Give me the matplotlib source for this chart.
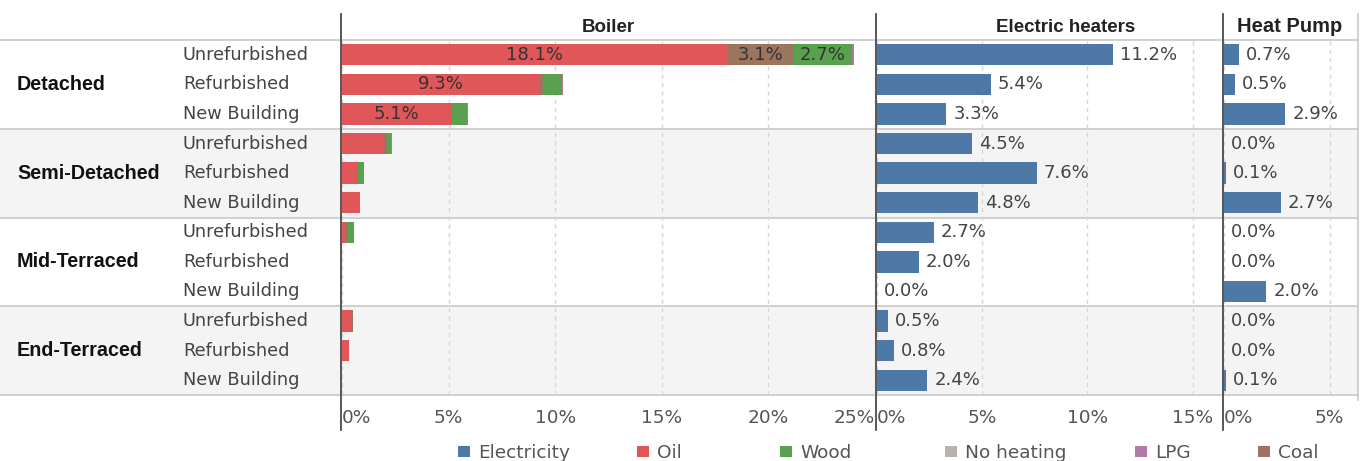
import matplotlib.pyplot as plt
from matplotlib.patches import Rectangle

# data (percent)
groups = ['Detached', 'Semi-Detached', 'Mid-Terraced', 'End-Terraced']
row_labels = ['Unrefurbished', 'Refurbished', 'New Building'] * 4

boiler_oil = [18.1, 9.3, 5.1, 1.9, 0.7, 0.8, 0.2, 0.0, 0.0, 0.45, 0.35, 0.0]
boiler_coal = [3.1, 0.15, 0.05, 0.2, 0.05, 0.0, 0.1, 0.0, 0.0, 0.05, 0.0, 0.0]
boiler_wood = [2.7, 0.85, 0.7, 0.2, 0.3, 0.05, 0.25, 0.0, 0.0, 0.0, 0.0, 0.0]
boiler_lpg = [0.1, 0.05, 0.05, 0.03, 0.0, 0.0, 0.0, 0.0, 0.0, 0.0, 0.0, 0.0]
electric = [11.2, 5.4, 3.3, 4.5, 7.6, 4.8, 2.7, 2.0, 0.0, 0.5, 0.8, 2.4]
heat_pump = [0.7, 0.5, 2.9, 0.0, 0.1, 2.7, 0.0, 0.0, 2.0, 0.0, 0.0, 0.1]

legend_names = ['Electricity', 'Oil', 'Wood', 'No heating', 'LPG', 'Coal']
colors = {'Electricity': '#4e79a7', 'Oil': '#e15759', 'Wood': '#59a14f',
          'No heating': '#bab0ac', 'LPG': '#b07aa1', 'Coal': '#9c755f'}

W, H = 1368, 461
plt.rcParams['font.family'] = ['DejaVu Sans']
bold_font = ['Liberation Sans', 'DejaVu Sans']
fig = plt.figure(figsize=(W / 100, H / 100), dpi=100)


def px_axes(x0, y0, x1, y1, **kw):
    return fig.add_axes([x0 / W, 1 - y1 / H, (x1 - x0) / W, (y1 - y0) / H], **kw)


# background axes in pixel coordinates
bg = px_axes(0, 0, W, H)
bg.set_xlim(0, W)
bg.set_ylim(H, 0)
bg.axis('off')

top, bottom = 40, 395
row_h = (bottom - top) / 12
for gi in (1, 3):
    y0 = top + gi * 3 * row_h
    bg.add_patch(Rectangle((0, y0), 1358, 3 * row_h, color='#f4f4f4', lw=0, zorder=0))
for gi in range(5):
    y = top + gi * 3 * row_h
    bg.plot([0, 1358], [y, y], color='#c8c8c8', lw=1.2, zorder=1)
for x in (341, 876, 1223):
    bg.plot([x, x], [14, 430], color='#4a4a4a', lw=1.3, zorder=5)
bg.plot([1358, 1358], [14, 400], color='#c8c8c8', lw=1.2, zorder=1)

for gi, g in enumerate(groups):
    bg.text(17, top + (gi * 3 + 1.5) * row_h, g, fontsize=14.2, fontweight='bold',
            family=bold_font, color='#111111', va='center', ha='left')
for i, lab in enumerate(row_labels):
    bg.text(183, top + (i + 0.5) * row_h, lab, fontsize=12.8, color='#444444',
            va='center', ha='left')

bg.text(608, 27, 'Boiler', fontsize=13.5, fontweight='bold', family=bold_font,
        color='#222222', ha='center', va='center')
bg.text(1066, 27, 'Electric heaters', fontsize=13.5, fontweight='bold', family=bold_font,
        color='#222222', ha='center', va='center')
bg.text(1290, 27, 'Heat Pump', fontsize=14.5, fontweight='bold', family=bold_font,
        color='#222222', ha='center', va='center')

# legend
leg_x = [458, 637, 780, 945, 1135, 1258]
for x, name in zip(leg_x, legend_names):
    bg.add_patch(Rectangle((x, 446), 12, 11, color=colors[name], lw=0))
    bg.text(x + 20, 453, name, fontsize=13.3, color='#555555', va='center', ha='left')

# panels
panels = [(342, 875, 25.0, [0, 5, 10, 15, 20, 25]),
          (877, 1222, 16.4, [0, 5, 10, 15]),
          (1224, 1358, 6.35, [0, 5])]
axes = []
for pi, (x0, x1, xmax, ticks) in enumerate(panels):
    ax = px_axes(x0, top, x1, bottom)
    ax.patch.set_alpha(0)
    ax.set_xlim(0, xmax)
    ax.set_ylim(11.5, -0.5)
    ax.set_yticks([])
    ax.set_xticks(ticks)
    ax.set_xticklabels([f'{t}%' for t in ticks])
    ax.tick_params(axis='x', length=0, pad=10, labelsize=13.3, labelcolor='#555555')
    labels = ax.get_xticklabels()
    labels[0].set_horizontalalignment('left')
    if pi == 0:
        labels[-1].set_horizontalalignment('right')
    for s in ax.spines.values():
        s.set_visible(False)
    ax.grid(axis='x', color='#d6d6d6', linestyle=(0, (3, 3)), lw=1)
    ax.set_axisbelow(True)
    axes.append(ax)

rows = list(range(12))
bh = 0.72

# boiler stacked bars
ax = axes[0]
left = [0.0] * 12
for name, vals in [('Oil', boiler_oil), ('Coal', boiler_coal),
                   ('Wood', boiler_wood), ('LPG', boiler_lpg)]:
    ax.barh(rows, vals, left=left, height=bh, color=colors[name], zorder=3)
    for i, v in enumerate(vals):
        if v >= 2.5:
            ax.text(left[i] + v / 2, i, f'{v:.1f}%', ha='center', va='center',
                    fontsize=13, color='#333333', zorder=4)
    left = [l + v for l, v in zip(left, vals)]

# electric heaters and heat pump
for ax, vals in [(axes[1], electric), (axes[2], heat_pump)]:
    ax.barh(rows, vals, height=bh, color=colors['Electricity'], zorder=3)
    for i, v in enumerate(vals):
        ax.annotate(f'{v:.1f}%', (v, i), xytext=(5, 0), textcoords='offset points',
                    ha='left', va='center', fontsize=13, color='#444444')

fig.savefig('out.png', dpi=100)
